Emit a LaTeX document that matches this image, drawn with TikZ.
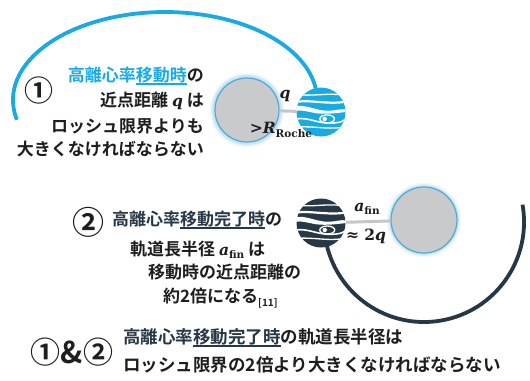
\documentclass[tikz,border=0pt]{standalone}
\usepackage{fontspec}
\newfontfamily\jp{Noto Sans CJK JP}[BoldFont={* Bold}]
\newfontfamily\mserif{DejaVu Serif}
\usetikzlibrary{positioning}

\definecolor{orbitblue}{HTML}{19AAE2}
\definecolor{slate}{HTML}{263746}
\definecolor{textdark}{HTML}{1E1E1E}
\definecolor{stargray}{HTML}{C9CACC}
\definecolor{glowblue}{HTML}{4FA9D6}

% underline with a thicker rule
\newsavebox\ulbox
\newcommand\ulword[1]{\sbox\ulbox{#1}\rlap{\rule[-3.5bp]{\wd\ulbox}{1.3bp}}\usebox\ulbox}
% heavy serif symbols and their subscripts
\newcommand\mvar[1]{{\mserif\bfseries\itshape\fontsize{15.5bp}{18bp}\selectfont #1}}
\newcommand\msym[1]{{\mserif\bfseries\fontsize{15.5bp}{18bp}\selectfont #1}}
\newcommand\msub[1]{\raisebox{-3.5bp}{\mserif\bfseries\fontsize{10.5bp}{11bp}\selectfont #1}}

\tikzset{
  jtext/.style={font=\jp\bfseries\fontsize{17bp}{20bp}\selectfont, text=textdark, inner sep=0pt},
  numlabel/.style={font=\jp\bfseries\fontsize{#1}{#1}\selectfont, text=textdark, inner sep=0pt},
  mathlabel/.style={text=textdark, inner sep=0pt},
  star/.style={circle, fill=stargray, draw=glowblue, line width=1.2bp, minimum size=#1, inner sep=0pt},
  planet/.style={circle, fill=#1, minimum size=49bp, inner sep=0pt},
  gap/.style={draw=gray!45, line width=3bp},
  orbit/.style={draw=#1, line width=3.8bp},
  bands/.pic={
    \begin{scope}
      \clip (0,0) circle (1);
      \draw[white, line width=1.3bp] (-1,0.72) .. controls (-0.3,0.62) and (0.2,0.8) .. (1,0.68);
      \draw[white, line width=2.2bp] (-1,0.42) .. controls (-0.4,0.5) and (0.3,0.3) .. (1,0.42);
      \fill[white] (-1,0.25) .. controls (-0.5,0.28) and (-0.2,0.05) .. (0.3,0.05)
        .. controls (0.6,0.05) and (0.8,0.15) .. (1,0.1) -- (1,0)
        .. controls (0.6,-0.05) and (0.2,-0.1) .. (-0.2,-0.05)
        .. controls (-0.5,0) and (-0.8,0.1) .. (-1,0.05) -- cycle;
      \draw[white, line width=1.6bp] (-1,-0.28) .. controls (-0.5,-0.2) and (-0.1,-0.5) .. (0.5,-0.45)
        .. controls (0.8,-0.42) .. (1,-0.3);
      \draw[white, line width=1.3bp] (0.25,-0.28) ellipse [x radius=0.3, y radius=0.16];
      \fill[white] (0.15,-0.28) circle [radius=0.09];
      \draw[white, line width=1.3bp] (-1,-0.62) .. controls (-0.3,-0.55) and (0.3,-0.75) .. (1,-0.6);
    \end{scope}
  },
}

\begin{document}
\begin{tikzpicture}[x=1bp, y=1bp]
  \fill[white] (0,0) rectangle (530,-380);
  \useasboundingbox (0,0) rectangle (530,-380);

  % orbits
  \draw[orbit=orbitblue] (16.9,-119.8) arc[start angle=193, end angle=7.6, x radius=152, y radius=88];
  \draw[orbit=slate] (326.6,-244.5) arc[start angle=193, end angle=370, radius=100];

  % soft glow round the stars
  \foreach \c in {(247,-110), (424,-220)} {
    \foreach \w/\o in {9/0.06, 6/0.1, 3.5/0.18} {
      \draw[glowblue, opacity=\o, line width=\w bp] \c circle (33);
    }
  }

  % case 1: passage at pericentre
  \node[star=64bp] (starA) at (247,-110) {};
  \node[planet=orbitblue] (janA) at (321,-112) {};
  \draw[gap] (starA) -- (janA);
  \pic[scale=24.5] at (janA) {bands};
  \node[mathlabel] (qA) at (285,-96) {\mvar{q}};
  \node[mathlabel] (rocheA) at (281,-130) {\msym{>}\mvar{R}\msub{Roche}};

  \node[numlabel=29bp] (one) at (39,-90) {①};
  \node[jtext, anchor=base east] (a1) at (204,-81) {{\color{orbitblue}高離心率\ulword{移動時}}の};
  \node[jtext, anchor=base east] (a2) at (204,-106) {近点距離 \mvar{q} は};
  \node[jtext, anchor=base east] (a3) at (204,-132) {ロッシュ限界よりも};
  \node[jtext, anchor=base east] (a4) at (204,-155) {大きくなければならない};

  % case 2: after the migration
  \node[star=66bp] (starB) at (424,-220) {};
  \node[planet=slate] (janB) at (321,-223) {};
  \draw[gap] (janB) -- (starB);
  \pic[scale=25] at (janB) {bands};
  \node[mathlabel] (afin) at (367,-209) {\mvar{a}\msub{fin}};
  \node[mathlabel] (twoq) at (366,-236) {\msym{≈ 2}\mvar{q}};

  \node[numlabel=32bp] (two) at (88,-222) {②};
  \node[jtext, anchor=base west] (b1) at (112,-225) {{\color{slate}高離心率\ulword{移動完了時}}の};
  \node[jtext, anchor=base west] (b2) at (130,-255) {軌道長半径 \mvar{a}\msub{fin} は};
  \node[jtext, anchor=base west] (b3) at (148,-278) {移動時の近点距離の};
  \node[jtext, anchor=base west] (b4) at (163,-302) {約2倍になる\raisebox{-4bp}{\fontsize{10bp}{10bp}\selectfont[11]}};

  % both together
  \node[numlabel=30bp] (both) at (72,-352) {①\&②};
  \node[jtext, anchor=base west, font=\jp\bfseries\fontsize{17.5bp}{20bp}\selectfont] (c1) at (123,-343)
    {{\color{slate}高離心率\ulword{移動完了時}}の軌道長半径は};
  \node[jtext, anchor=base west, font=\jp\bfseries\fontsize{17.5bp}{20bp}\selectfont] (c2) at (123,-371)
    {ロッシュ限界の2倍より大きくなければならない};
\end{tikzpicture}
\end{document}
